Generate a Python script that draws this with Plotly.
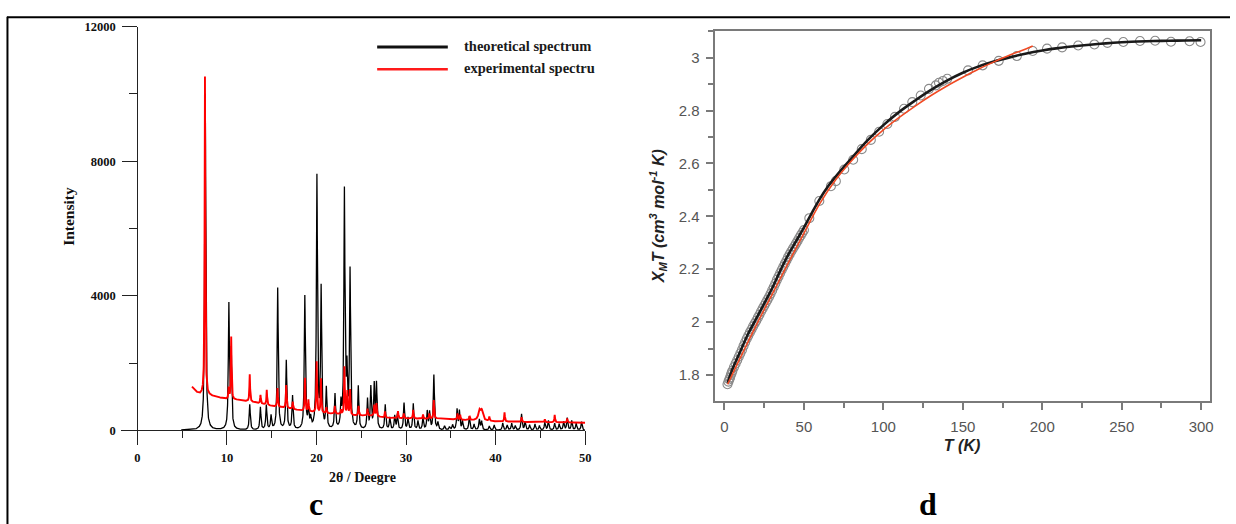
import numpy as np
import plotly.graph_objects as go

# ---------------- Panel c : XRD spectra ----------------
theo_pos = [7.58, 10.22, 10.48, 12.55, 13.74, 14.40, 14.93, 15.67, 16.63, 17.33, 18.70, 19.10, 19.35,
            20.05, 20.52, 21.10, 22.07, 22.74, 23.12, 23.40, 23.75, 24.67, 25.70, 26.07, 26.45, 26.70,
            27.68, 28.19, 28.74, 29.04, 29.78, 30.22, 30.81, 31.33, 31.89, 32.37, 32.63, 33.11, 33.56,
            34.30, 34.85, 35.20, 35.70, 35.96, 36.30, 37.07, 37.60, 38.19, 38.44, 39.30, 39.85, 40.80,
            41.30, 41.80, 42.20, 42.90, 43.30, 43.80, 44.40, 44.90, 45.50, 45.90, 46.60, 47.10, 47.60,
            48.00, 48.50, 49.00, 49.60]
theo_height = [10010, 3650, 2250, 760, 670, 730, 410, 4220, 2050, 1000, 3960, 600, 300,
               7500, 4150, 1200, 1030, 700, 7050, 1600, 4700, 1270, 890, 1240, 1300, 1340,
               740, 360, 410, 460, 800, 360, 780, 260, 360, 540, 510, 1630, 215,
               120, 90, 150, 600, 560, 260, 410, 170, 310, 260, 120, 150, 215,
               150, 200, 130, 480, 250, 150, 180, 130, 230, 280, 200, 180, 250,
               360, 280, 200, 250]

exp_bg_x = [6.1, 6.5, 7.0, 8.7, 9.8, 11.3, 13.1, 15.0, 16.8, 18.3, 20.5, 22.4, 24.2, 26.5, 27.4,
            28.7, 32.4, 33.5, 36.1, 39.8, 43.6, 47.3, 50.0]
exp_bg_y = [1290, 1150, 1060, 1000, 930, 900, 830, 720, 655, 580, 510, 480, 440, 430, 380,
            360, 340, 350, 310, 265, 245, 235, 225]
exp_pos = [7.55, 10.20, 10.48, 12.55, 13.75, 14.45, 15.65, 16.62, 17.35, 18.72, 19.10, 20.02, 20.50,
           21.10, 22.05, 22.75, 23.12, 23.45, 23.75, 24.70, 25.70, 26.45, 26.70, 27.65, 29.10, 29.75,
           30.80, 31.90, 32.60, 33.10, 35.75, 36.05, 37.10, 38.20, 38.45, 39.30, 41.00, 42.90, 45.50,
           46.60, 48.00]
exp_top = [10520, 1250, 2777, 1660, 1050, 1200, 1250, 1340, 850, 1550, 900, 2040, 1530,
           680, 720, 600, 1880, 1150, 1200, 720, 640, 750, 800, 560, 570, 500,
           610, 470, 500, 900, 500, 460, 420, 560, 560, 400, 530, 390, 330,
           460, 350]

x_ticks_c = [0, 10, 20, 30, 40, 50]
y_ticks_c = [0, 4000, 8000, 12000]
y_ticklabels_c = ["0", "4000", "8000", "12000"]

# ---------------- Panel d : chi_M T vs T ----------------
data_T = [1.9, 2.5, 3, 3.5, 4, 4.5, 5, 6, 7, 8, 9, 10, 11, 12, 13, 14, 15, 16, 17, 18, 19, 20,
          21, 22, 23, 24, 25, 26, 27, 28, 29, 30, 31, 32, 33, 34, 35, 36, 37, 38, 39, 40, 41, 42,
          43, 44, 45, 46, 47, 48, 49, 50, 53.4, 59.7, 67, 70.1, 75.4, 81, 86.4, 92.1, 97.3, 102.5,
          107.3, 113, 118.2, 123.5, 128.7, 133, 135, 137.5, 140.2, 153.3, 162.5, 172.6, 184, 194,
          203, 212.5, 222.6, 232.8, 241, 251, 261.5, 271, 281, 292.7, 299.6]
data_chiT = [1.765, 1.775, 1.783, 1.790, 1.800, 1.808, 1.816, 1.830, 1.843, 1.856, 1.869, 1.882,
             1.895, 1.910, 1.924, 1.937, 1.949, 1.961, 1.972, 1.984, 1.995, 2.005, 2.017, 2.028,
             2.040, 2.051, 2.062, 2.073, 2.084, 2.095, 2.107, 2.120, 2.133, 2.146, 2.160, 2.172,
             2.185, 2.197, 2.209, 2.221, 2.233, 2.245, 2.256, 2.267, 2.277, 2.287, 2.297, 2.307,
             2.318, 2.328, 2.338, 2.348, 2.393, 2.458, 2.514, 2.533, 2.577, 2.614, 2.654, 2.689,
             2.720, 2.749, 2.776, 2.807, 2.832, 2.857, 2.882, 2.895, 2.905, 2.912, 2.920, 2.952,
             2.971, 2.988, 3.006, 3.025, 3.034, 3.039, 3.046, 3.050, 3.056, 3.059, 3.063, 3.064,
             3.060, 3.062, 3.059]

fit_black_T = [2, 5, 10, 15, 20, 25, 30, 35, 40, 45, 50, 55, 60, 65, 70, 75, 80, 90, 100, 110, 120,
               130, 140, 150, 160, 170, 180, 190, 200, 210, 220, 230, 240, 250, 260, 270, 280, 290, 300]
fit_black_v = [1.770, 1.822, 1.890, 1.957, 2.013, 2.070, 2.128, 2.193, 2.253, 2.305, 2.357, 2.413,
               2.466, 2.512, 2.550, 2.586, 2.620, 2.687, 2.745, 2.795, 2.838, 2.878, 2.913, 2.943,
               2.967, 2.986, 3.002, 3.016, 3.027, 3.036, 3.043, 3.049, 3.054, 3.058, 3.061, 3.063,
               3.064, 3.065, 3.066]

fit_red_T = [2, 10, 20, 30, 40, 50, 60, 70, 80, 90, 100, 110, 120, 130, 140, 150, 160, 170, 180, 190, 194]
fit_red_v = [1.765, 1.866, 1.988, 2.105, 2.222, 2.336, 2.448, 2.538, 2.610, 2.673, 2.727, 2.774,
             2.817, 2.857, 2.893, 2.926, 2.957, 2.985, 3.011, 3.034, 3.044]

x_ticks_d = [0, 50, 100, 150, 200, 250, 300]
y_ticks_d = [1.8, 2.0, 2.2, 2.4, 2.6, 2.8, 3.0]
y_ticklabels_d = ["1.8", "2", "2.2", "2.4", "2.6", "2.8", "3"]

# ---------------- build spectra profiles from read peak tables ----------------
W = 1236.0
H = 524.0
GAMMA = 0.07

xt = np.round(np.arange(4.9, 49.95, 0.01), 3)
yt = np.zeros_like(xt)
for p, h in zip(theo_pos, theo_height):
    yt += h / (1.0 + ((xt - p) / GAMMA) ** 2)

xe = np.round(np.arange(6.1, 50.0, 0.01), 3)
ye = np.interp(xe, exp_bg_x, exp_bg_y)
for p, top in zip(exp_pos, exp_top):
    amp = top - np.interp(p, exp_bg_x, exp_bg_y)
    g = 0.15 if 38.0 < p < 38.6 else 0.045
    ye += amp / (1.0 + ((xe - p) / g) ** 2)


def px(x):
    return x / W


def py(y):
    return 1 - y / H


fig = go.Figure()
fig.add_trace(go.Scatter(x=xt, y=yt, mode="lines", line=dict(color="#000000", width=1.3),
                         name="theoretical spectrum", showlegend=False, xaxis="x", yaxis="y"))
fig.add_trace(go.Scatter(x=xe, y=ye, mode="lines", line=dict(color="#ff0000", width=1.9),
                         name="experimental spectrum", showlegend=False, xaxis="x", yaxis="y"))

fig.add_trace(go.Scatter(x=data_T, y=data_chiT, mode="markers",
                         marker=dict(symbol="circle-open", size=9, color="#8a8a8a", line=dict(width=1.1)),
                         showlegend=False, xaxis="x2", yaxis="y2"))
fig.add_trace(go.Scatter(x=fit_black_T, y=fit_black_v, mode="lines", line=dict(color="#1a1a1a", width=2.6, shape="spline"),
                         showlegend=False, xaxis="x2", yaxis="y2"))
fig.add_trace(go.Scatter(x=fit_red_T, y=fit_red_v, mode="lines", line=dict(color="#f04a24", width=1.6, shape="spline"),
                         showlegend=False, xaxis="x2", yaxis="y2"))

serif_b = dict(family="Liberation Serif", size=12.5, color="#111111", weight="bold")
sans = dict(family="Liberation Sans", size=15, color="#555555")

fig.update_layout(
    width=1236, height=524,
    margin=dict(l=0, r=0, t=0, b=0),
    paper_bgcolor="white", plot_bgcolor="white",
    xaxis=dict(domain=[px(122), px(588)], range=[-1.78, 50], anchor="free", position=py(429),
               showline=True, linecolor="#222222", linewidth=1.3, showgrid=False, zeroline=False,
               tickmode="array", tickvals=x_ticks_c, ticks="outside", ticklen=14, tickwidth=1.2,
               tickcolor="#222222", tickfont=serif_b, ticklabelstandoff=2,
               minor=dict(dtick=5, tick0=0, ticks="outside", ticklen=7, tickwidth=1.2, tickcolor="#222222")),
    yaxis=dict(domain=[py(443), py(20)], range=[-410, 12000], anchor="free", position=px(138),
               showline=True, linecolor="#222222", linewidth=1.3, showgrid=False, zeroline=False,
               tickmode="array", tickvals=y_ticks_c, ticktext=y_ticklabels_c, ticks="outside", ticklen=15,
               tickwidth=1.2, tickcolor="#222222", tickfont=serif_b, ticklabelstandoff=4,
               minor=dict(dtick=2000, tick0=0, ticks="outside", ticklen=8, tickwidth=1.2, tickcolor="#222222")),
    xaxis2=dict(domain=[px(718), px(1215.5)], range=[-6.26, 305.3], anchor="y2",
                showline=True, mirror=True, linecolor="#7a7a7a", linewidth=2, showgrid=False, zeroline=False,
                tickmode="array", tickvals=x_ticks_d, ticks="outside", ticklen=7, tickwidth=1.5,
                tickcolor="#7a7a7a", tickfont=sans, ticklabelstandoff=4,
                minor=dict(dtick=25, tick0=0, ticks="outside", ticklen=5, tickwidth=1.5, tickcolor="#7a7a7a"),
                title=dict(text="T (K)", font=dict(family="Liberation Sans", size=16, color="#222222",
                                                     weight="bold", style="italic"), standoff=6)),
    yaxis2=dict(domain=[py(399), py(24)], range=[1.703, 3.102], anchor="x2",
                showline=True, mirror=True, linecolor="#7a7a7a", linewidth=2, showgrid=False, zeroline=False,
                tickmode="array", tickvals=y_ticks_d, ticktext=y_ticklabels_d, ticks="outside", ticklen=7,
                tickwidth=1.5, tickcolor="#7a7a7a", tickfont=sans, ticklabelstandoff=3,
                minor=dict(dtick=0.1, tick0=1.8, ticks="outside", ticklen=5, tickwidth=1.5, tickcolor="#7a7a7a"),
                title=dict(text="X<sub>M</sub>T (cm<sup>3</sup> mol<sup>-1</sup> K)",
                           font=dict(family="Liberation Sans", size=16, color="#222222",
                                     weight="bold", style="italic"), standoff=10)),
)

# Legend of panel c (swatches + labels)
fig.add_shape(type="line", xref="paper", yref="paper", x0=px(379), x1=px(450), y0=py(40.5), y1=py(40.5),
              line=dict(color="#111111", width=3))
fig.add_shape(type="line", xref="paper", yref="paper", x0=px(379), x1=px(450), y0=py(63), y1=py(63),
              line=dict(color="#ff1a1a", width=2.5))
legend_font = dict(family="Liberation Serif", size=14.5, color="#1a1a1a", weight="bold")
fig.add_annotation(text="theoretical spectrum", xref="paper", yref="paper", x=px(464), y=py(40),
                   xanchor="left", yanchor="middle", showarrow=False, font=legend_font)
fig.add_annotation(text="experimental spectru", xref="paper", yref="paper", x=px(464), y=py(62),
                   xanchor="left", yanchor="middle", showarrow=False, font=legend_font)

# axis titles of panel c
fig.add_annotation(text="Intensity", xref="paper", yref="paper", x=px(68), y=py(212), textangle=-90,
                   xanchor="center", yanchor="middle", showarrow=False,
                   font=dict(family="Liberation Serif", size=15.5, color="#111111", weight="bold"))
fig.add_annotation(text="2θ / Deegre", xref="paper", yref="paper", x=px(364), y=py(477),
                   xanchor="center", yanchor="middle", showarrow=False,
                   font=dict(family="Liberation Serif", size=14, color="#111111", weight="bold"))

# panel letters
fig.add_annotation(text="c", xref="paper", yref="paper", x=px(318), y=py(504), xanchor="center",
                   yanchor="middle", showarrow=False,
                   font=dict(family="Liberation Serif", size=32, color="#000000", weight="bold"))
fig.add_annotation(text="d", xref="paper", yref="paper", x=px(933), y=py(504), xanchor="center",
                   yanchor="middle", showarrow=False,
                   font=dict(family="Liberation Serif", size=32, color="#000000", weight="bold"))

# table-cell borders
fig.add_shape(type="line", xref="paper", yref="paper", x0=px(7), x1=1, y0=py(10.5), y1=py(10.5),
              line=dict(color="#000000", width=2))
fig.add_shape(type="line", xref="paper", yref="paper", x0=px(7.5), x1=px(7.5), y0=0, y1=py(10),
              line=dict(color="#000000", width=2))

fig.write_html("out.html", config={"displayModeBar": False},
               post_script="document.body.style.margin='0px';document.body.style.overflow='hidden';")
